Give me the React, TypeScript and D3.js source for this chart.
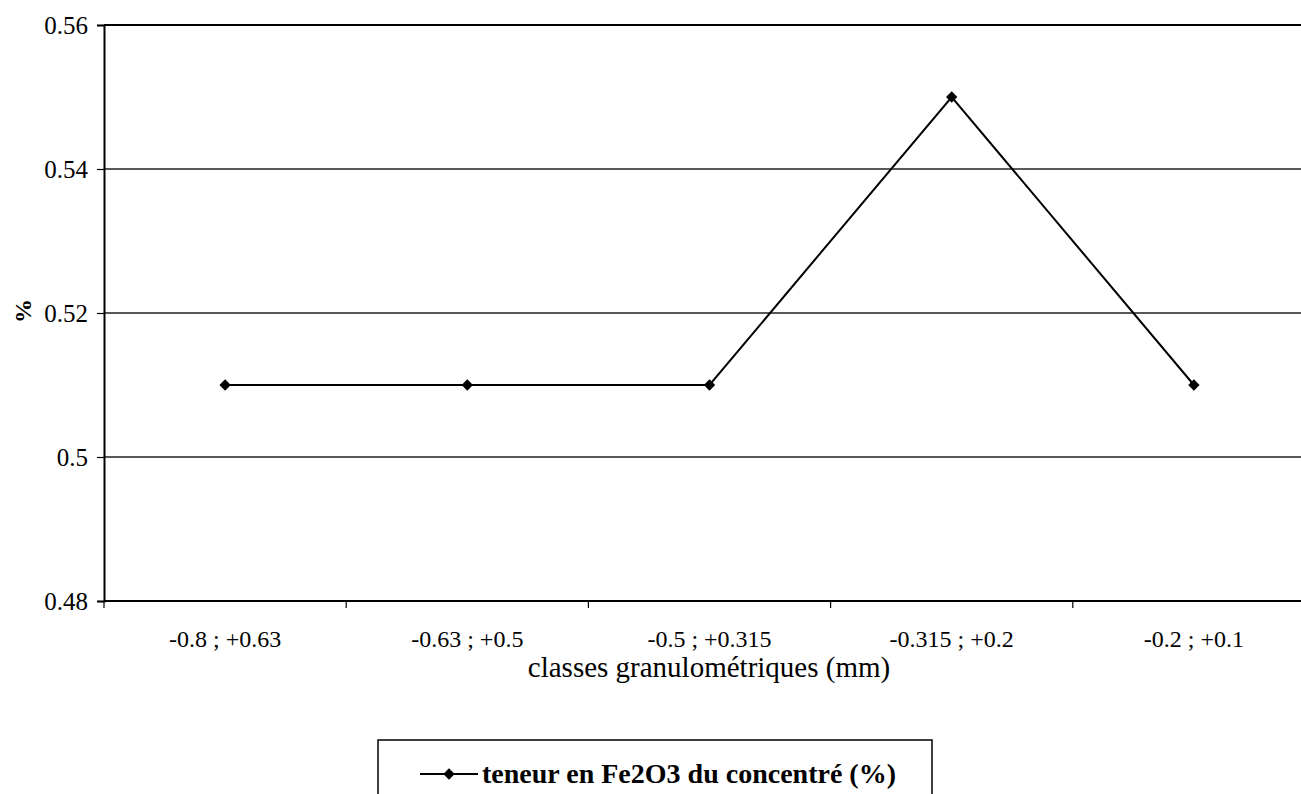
import React, { useEffect, useRef } from 'react'
import * as d3 from 'd3'

const categories = ['-0.8 ; +0.63', '-0.63 ; +0.5', '-0.5 ; +0.315', '-0.315 ; +0.2', '-0.2 ; +0.1']
const fe2o3Values = [0.51, 0.51, 0.51, 0.55, 0.51]
const yTicks = [0.48, 0.5, 0.52, 0.54, 0.56]
const seriesName = 'teneur en Fe2O3 du concentré (%)'
const xTitle = 'classes granulométriques (mm)'
const yTitle = '%'

const W = 1301
const H = 794
const FONT = "'Liberation Serif', 'DejaVu Serif', serif"

export default function App() {
  const ref = useRef<SVGSVGElement>(null)

  useEffect(() => {
    const svg = d3.select(ref.current)
    svg.selectAll('*').remove()

    const left = 104
    const right = 1315
    const top = 25
    const bottom = 601

    const x = d3.scaleBand().domain(categories).range([left, right]).padding(0)
    const y = d3.scaleLinear().domain([0.48, 0.56]).range([bottom, top])
    const cx = (c: string) => (x(c) as number) + x.bandwidth() / 2

    // gridlines
    svg.append('g')
      .selectAll('line')
      .data(yTicks.filter(t => t > 0.48 && t < 0.56))
      .join('line')
      .attr('x1', left).attr('x2', W)
      .attr('y1', d => y(d)).attr('y2', d => y(d))
      .attr('stroke', '#222').attr('stroke-width', 1.3)

    // top border
    svg.append('line')
      .attr('x1', left).attr('x2', W)
      .attr('y1', y(0.56)).attr('y2', y(0.56))
      .attr('stroke', '#000').attr('stroke-width', 2)

    // y axis
    const yAxis = d3.axisLeft(y).tickValues(yTicks).tickSize(7).tickPadding(9)
      .tickFormat(d => String(+d))
    const gy = svg.append('g').attr('transform', `translate(${left},0)`).call(yAxis)
    gy.select('.domain').attr('stroke', '#000').attr('stroke-width', 2)
    gy.selectAll('.tick line').attr('stroke', '#000').attr('stroke-width', 1.2)
    gy.selectAll('.tick text')
      .style('font-family', FONT).style('font-size', '25px').attr('fill', '#000')

    // x axis
    const gx = svg.append('g').attr('transform', `translate(0,${bottom})`)
    gx.append('line')
      .attr('x1', left).attr('x2', W).attr('y1', 0).attr('y2', 0)
      .attr('stroke', '#000').attr('stroke-width', 2)
    gx.selectAll('.tk')
      .data(categories)
      .join('line')
      .attr('x1', d => x(d) as number).attr('x2', d => x(d) as number)
      .attr('y1', 0).attr('y2', 7)
      .attr('stroke', '#000').attr('stroke-width', 1.2)
    gx.selectAll('text')
      .data(categories)
      .join('text')
      .attr('x', d => cx(d)).attr('y', 46)
      .attr('text-anchor', 'middle')
      .style('font-family', FONT).style('font-size', '24px')
      .text(d => d)

    // axis titles
    svg.append('text')
      .attr('x', 709).attr('y', 677)
      .attr('text-anchor', 'middle')
      .style('font-family', FONT).style('font-size', '29px')
      .text(xTitle)

    svg.append('text')
      .attr('transform', `translate(31,311) rotate(-90)`)
      .attr('text-anchor', 'middle')
      .style('font-family', FONT).style('font-size', '24px').style('font-weight', 'bold')
      .text(yTitle)

    // series line
    const line = d3.line<number>()
      .x((d, i) => cx(categories[i]))
      .y(d => y(d))
    svg.append('path')
      .attr('d', line(fe2o3Values))
      .attr('fill', 'none').attr('stroke', '#000').attr('stroke-width', 2)

    const diamond = d3.symbol().type(d3.symbolSquare).size(64)
    svg.append('g')
      .selectAll('path')
      .data(fe2o3Values)
      .join('path')
      .attr('transform', (d, i) => `translate(${cx(categories[i])},${y(d)}) rotate(45)`)
      .attr('d', diamond())
      .attr('fill', '#000')

    // legend
    const lg = svg.append('g')
    lg.append('rect')
      .attr('x', 378).attr('y', 740).attr('width', 554).attr('height', 80)
      .attr('fill', 'none').attr('stroke', '#000').attr('stroke-width', 1.5)
    lg.append('line')
      .attr('x1', 420).attr('x2', 478).attr('y1', 774).attr('y2', 774)
      .attr('stroke', '#000').attr('stroke-width', 2)
    lg.append('path')
      .attr('transform', 'translate(449,774) rotate(45)')
      .attr('d', diamond())
      .attr('fill', '#000')
    lg.append('text')
      .attr('x', 482).attr('y', 783)
      .style('font-family', FONT).style('font-size', '28px').style('font-weight', 'bold')
      .text(seriesName)
  }, [])

  return (
    <svg
      ref={ref}
      width={W}
      height={H}
      style={{ position: 'absolute', left: 0, top: 0, background: '#fff' }}
    />
  )
}
